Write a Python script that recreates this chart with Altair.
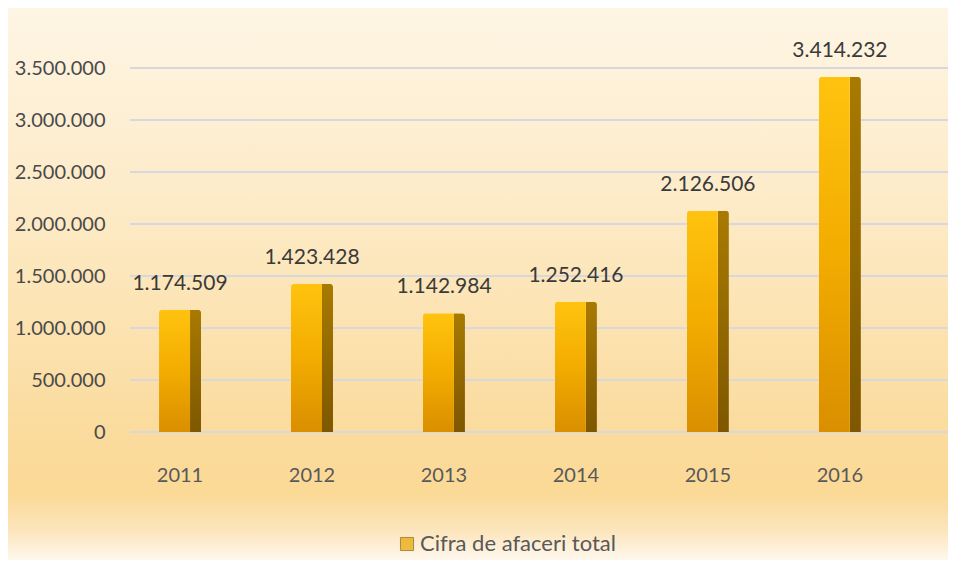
import altair as alt
import pandas as pd

years = ["2011", "2012", "2013", "2014", "2015", "2016"]
values = [1174509, 1423428, 1142984, 1252416, 2126506, 3414232]
value_labels = ["1.174.509", "1.423.428", "1.142.984", "1.252.416", "2.126.506", "3.414.232"]
series_name = "Cifra de afaceri total"
y_ticks = [0, 500000, 1000000, 1500000, 2000000, 2500000, 3000000, 3500000]

df = pd.DataFrame({"An": years, "Valoare": values, "Eticheta": value_labels, "Serie": series_name})
ticks_df = pd.DataFrame({"Valoare": y_ticks})
bg_df = pd.DataFrame({"bg": [0]})

FONT = "Lato"
W, H = 818, 390

x_enc = alt.X(
    "An:N", sort=years,
    scale=alt.Scale(paddingInner=0.682, paddingOuter=0.44, align=0.25),
    axis=alt.Axis(title=None, labelAngle=0, labelFont=FONT, labelFontSize=20, zindex=2,
                  labelColor="#595959", labelPadding=33, domain=False, ticks=False, grid=False),
)
y_scale = alt.Scale(domain=[0, 3750000], nice=False, zero=True)
y_enc = alt.Y(
    "Valoare:Q", scale=y_scale,
    axis=alt.Axis(title=None, values=y_ticks, grid=False, domain=False, ticks=False, zindex=2,
                  labelFont=FONT, labelFontSize=20, labelColor="#4A4A4A", labelPadding=25,
                  labelExpr="replace(replace(format(datum.value, ','), ',', '.'), ',', '.')"),
)

background = alt.Chart(bg_df).mark_rect(
    fill=alt.Gradient(
        gradient="linear", x1=0, x2=0, y1=0, y2=1,
        stops=[
            alt.GradientStop(color="#FEF5E4", offset=0),
            alt.GradientStop(color="#FDEBC8", offset=0.35),
            alt.GradientStop(color="#FBDC9F", offset=0.75),
            alt.GradientStop(color="#FBD996", offset=0.88),
            alt.GradientStop(color="#FCE6BE", offset=0.95),
            alt.GradientStop(color="#FFF8EE", offset=1),
        ],
    )
).encode(x=alt.value(-122), x2=alt.value(W + 10), y=alt.value(-34), y2=alt.value(518))

grid = alt.Chart(ticks_df).mark_rule(color="#D5D8DE", strokeWidth=2).encode(y=y_enc)

front = alt.Chart(df).mark_bar(
    width=31, xOffset=-5.5, cornerRadiusTopLeft=3,
    fill=alt.Gradient(
        gradient="linear", x1=0, x2=0, y1=0, y2=1,
        stops=[
            alt.GradientStop(color="#FFC30F", offset=0),
            alt.GradientStop(color="#F3AC00", offset=0.5),
            alt.GradientStop(color="#D98F00", offset=1),
        ],
    ),
).encode(x=x_enc, y=y_enc)

side = alt.Chart(df).mark_bar(
    width=11, xOffset=15.5, cornerRadiusTopRight=3,
    fill=alt.Gradient(
        gradient="linear", x1=0, x2=0, y1=0, y2=1,
        stops=[
            alt.GradientStop(color="#A87A00", offset=0),
            alt.GradientStop(color="#7E5700", offset=1),
        ],
    ),
).encode(x=x_enc, y=y_enc)

text = alt.Chart(df).mark_text(
    font=FONT, fontSize=21, color="#3A3A3A", baseline="bottom", dy=-16
).encode(x=x_enc, y=y_enc, text="Eticheta:N")

legend_layer = alt.Chart(df).mark_square(size=0, filled=True).encode(
    x=x_enc,
    y=y_enc,
    color=alt.Color("Serie:N", scale=alt.Scale(range=["#E8A500"]),
                    legend=alt.Legend(title=None, orient="none", legendX=266, legendY=491,
                                      symbolType="square", symbolSize=170, zindex=2,
                                      symbolStrokeColor="#8A6000", symbolStrokeWidth=1,
                                      labelFont=FONT, labelFontSize=22, labelColor="#595959",
                                      labelOffset=2, labelLimit=0)),
)

chart = alt.layer(background, grid, front, side, text, legend_layer).properties(
    width=W, height=H,
    autosize=alt.AutoSizeParams(type="none"),
    padding={"left": 122, "top": 34, "right": 0, "bottom": 128},
).configure_view(stroke=None)

chart.save("out.html", embed_options={"renderer": "svg", "actions": False})
